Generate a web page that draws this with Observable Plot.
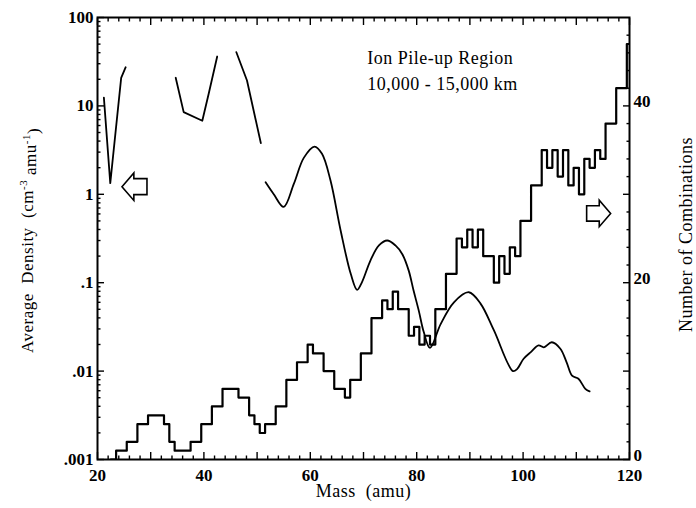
<!DOCTYPE html>
<html><head><meta charset="utf-8">
<script src="https://cdn.jsdelivr.net/npm/d3@7"></script>
<script src="https://cdn.jsdelivr.net/npm/@observablehq/plot@0.6"></script>
<style>
html,body{margin:0;padding:0;background:#fff;}
</style></head><body><div id="chart"></div>
<script>
// ---- Data ----
// Histogram: number of combinations per 1-amu mass bin (right axis)
const histMass = [23,24,25,26,27,28,29,30,31,32,33,34,35,36,37,38,39,40,41,42,43,44,45,46,47,48,49,50,
  51,52,53,54,55,56,57,58,59,60,61,62,63,64,65,66,67,68,69,70,71,72,73,74,75,76,77,78,79,80,
  81,82,83,84,85,86,87,88,89,90,91,92,93,94,95,96,97,98,99,100,101,102,103,104,105,106,107,108,109,110,
  111,112,113,114,115,116,117,118,119,120];
const histCount = [0,1,1,2,2,4,4,5,5,5,4,2,1,1,1,2,2,4,4,6,6,8,8,8,7,7,5,4,
  3,4,4,6,6,9,9,11,11,13,12,12,10,10,8,8,7,9,9,12,12,16,16,18,17,19,17,17,14,15,
  13,14,13,17,17,21,21,25,24,26,24,26,23,23,20,23,21,24,23,27,27,31,31,35,33,35,32,35,31,33,
  30,34,33,35,34,38,38,42,42,47];

// Average density curve (left, log axis), in separate segments
const densityMass = [21.2,22.4,24.45,25.3,
  34.7,36.2,39.7,40.9,42.5,
  46.1,48.1,50.7,
  51.6,53.1,55.0,56.9,58.8,60.8,62.2,63.8,65.7,67.6,68.8,69.7,71.3,72.9,74.45,76.0,77.3,78.5,79.4,80.4,81.3,82.5,
  84.5,87.0,89.8,92.0,94.5,98.1,98.9,100.1,101.5,102.9,103.9,105.4,107.0,108.2,109.2,110.4,111.7,112.5];
const densityValue = [12.4,1.34,20.8,27.4,
  20.8,8.5,6.8,13.7,36.2,
  40.5,19.4,3.8,
  1.37,1.01,0.72,1.31,2.6,3.47,2.87,1.43,0.39,0.126,0.083,0.101,0.178,0.264,0.30,0.264,0.21,0.137,0.082,0.048,0.028,0.0183,
  0.034,0.060,0.078,0.058,0.029,0.0100,0.0106,0.0138,0.0165,0.0195,0.0186,0.0212,0.0179,0.0125,0.0089,0.0082,0.0063,0.0059];
const densitySegment = [1,1,1,1, 2,2,2,2,2, 3,3,3,
  4,4,4,4,4,4,4,4,4,4,4,4,4,4,4,4,4,4,4,4,4,4,4,4,4,4,4,4,4,4,4,4,4,4,4,4,4,4,4,4];

// Tick labels
const leftTicks = [0.001, 0.01, 0.1, 1, 10, 100];
const leftTickLabels = [".001", ".01", ".1", "1", "10", "100"];
const bottomTicks = [20, 40, 60, 80, 100, 120];
const rightTicks = [0, 20, 40];

// Annotations
const noteText = ["Ion Pile-up Region", "10,000 - 15,000 km"];
const noteMass = [70.7, 70.7];
const noteDensity = [34.4, 17.5];
const arrowMass = [26.95, 114.2];
const arrowDensity = [1.22, 0.607];
const arrowDir = ["left", "right"];

const xTitle = "Mass\u00a0\u00a0(amu)";
const yTitle = "Average Density (cm-3 amu-1)";
const y2Title = "Number of Combinations";

// ---- Build ----
const countMax = 50;                       // right axis spans 0..50 over the 5 log decades
const countToY = c => Math.pow(10, -3 + 5 * c / countMax);
const yToCount = v => Math.round((Math.log10(v) + 3) * countMax / 5);

const histPts = histMass.map((m, i) => ({x: m - 0.5, y: countToY(histCount[i])}));
histPts.push({x: 120, y: countToY(histCount[histCount.length - 1])});

const dens = densityMass.map((m, i) => ({x: m, y: densityValue[i], seg: densitySegment[i]}));
const densStraight = dens.filter(d => d.seg < 4);
const densSmooth = dens.filter(d => d.seg === 4);

const notes = noteText.map((t, i) => ({t, x: noteMass[i], y: noteDensity[i]}));

function arrowSymbol(dir) {
  const s = dir === "left" ? 1 : -1;
  return {
    draw(ctx, size) {
      const r = Math.sqrt(size / Math.PI);
      ctx.moveTo(-r * s, 0);
      ctx.lineTo(-0.05 * r * s, -1.1 * r);
      ctx.lineTo(-0.05 * r * s, -0.64 * r);
      ctx.lineTo(r * s, -0.64 * r);
      ctx.lineTo(r * s, 0.64 * r);
      ctx.lineTo(-0.05 * r * s, 0.64 * r);
      ctx.lineTo(-0.05 * r * s, 1.1 * r);
      ctx.closePath();
    }
  };
}
const arrows = arrowMass.map((m, i) => ({x: m, y: arrowDensity[i], dir: arrowDir[i]}));

// tick positions
const logMinor = [];
for (let k = -3; k < 2; k++) for (let j = 2; j <= 9; j++) logMinor.push(j * Math.pow(10, k));
const xMajor = d3.range(20, 121, 10);
const xMinor = d3.range(20, 121, 2).filter(v => v % 10 !== 0);
const rMajor = d3.range(0, 50, 10).map(countToY);
const rMinor = d3.range(2, 50, 2).filter(v => v % 10 !== 0).map(countToY);

const serif = "'Liberation Serif', 'Times New Roman', serif";
const tickW = 1.4;

const chart = Plot.plot({
  width: 696,
  height: 508,
  marginLeft: 97,
  marginRight: 67,
  marginTop: 17,
  marginBottom: 49,
  style: {fontFamily: serif, fontSize: "17px", color: "#000", background: "#fff", overflow: "visible"},
  x: {domain: [20, 120], label: null},
  y: {type: "log", domain: [0.001, 100], label: null},
  marks: [
    // inward ticks: bottom
    Plot.axisX({anchor: "bottom", ticks: xMajor, tickSize: 7, dy: -7, text: null, strokeWidth: tickW, label: null}),
    Plot.axisX({anchor: "bottom", ticks: xMinor, tickSize: 3.5, dy: -3.5, text: null, strokeWidth: tickW, label: null}),
    // top
    Plot.axisX({anchor: "top", ticks: xMajor, tickSize: 7, dy: 7, text: null, strokeWidth: tickW, label: null}),
    Plot.axisX({anchor: "top", ticks: xMinor, tickSize: 3.5, dy: 3.5, text: null, strokeWidth: tickW, label: null}),
    // left
    Plot.axisY({anchor: "left", ticks: leftTicks, tickSize: 7, dx: 7, text: null, strokeWidth: tickW, label: null}),
    Plot.axisY({anchor: "left", ticks: logMinor, tickSize: 3.5, dx: 3.5, text: null, strokeWidth: tickW, label: null}),
    // right
    Plot.axisY({anchor: "right", ticks: rMajor, tickSize: 7, dx: -7, text: null, strokeWidth: tickW, label: null}),
    Plot.axisY({anchor: "right", ticks: rMinor, tickSize: 3.5, dx: -3.5, text: null, strokeWidth: tickW, label: null}),
    // tick labels
    Plot.axisX({anchor: "bottom", ticks: bottomTicks, tickSize: 0, tickPadding: 9, fontWeight: "bold", fontSize: 17, label: null}),
    Plot.axisY({anchor: "left", ticks: leftTicks, tickSize: 0, tickPadding: 4,
      tickFormat: v => leftTickLabels[leftTicks.indexOf(v)], fontWeight: "bold", fontSize: 17, label: null}),
    Plot.axisY({anchor: "right", ticks: rightTicks.map(countToY), tickSize: 0, tickPadding: 4, dy: -4,
      tickFormat: v => String(yToCount(v)), fontWeight: "bold", fontSize: 17, label: null}),
    Plot.frame({stroke: "#000", strokeWidth: 2}),
    // histogram
    Plot.line(histPts, {x: "x", y: "y", curve: "step-after", stroke: "#000", strokeWidth: 2.2, clip: true}),
    // density curve
    Plot.line(densStraight, {x: "x", y: "y", z: "seg", curve: "linear", stroke: "#000", strokeWidth: 1.8}),
    Plot.line(densSmooth, {x: "x", y: "y", curve: "catmull-rom", stroke: "#000", strokeWidth: 1.8}),
    // arrows
    Plot.dot(arrows.filter(d => d.dir === "left"), {x: "x", y: "y", r: 12.5, symbol: arrowSymbol("left"), fill: "#fff", stroke: "#000", strokeWidth: 1.6}),
    Plot.dot(arrows.filter(d => d.dir === "right"), {x: "x", y: "y", r: 12, symbol: arrowSymbol("right"), fill: "#fff", stroke: "#000", strokeWidth: 1.6}),
    // annotation
    Plot.text(notes, {x: "x", y: "y", text: "t", textAnchor: "start", fontSize: 18, fill: "#000"}),
    // axis titles
    Plot.text([xTitle], {frameAnchor: "bottom", textAnchor: "middle", dy: 37, text: d => d, fontSize: 18, fill: "#000"}),
    Plot.text([yTitle], {frameAnchor: "left", textAnchor: "middle", dx: -70, dy: 2, rotate: -90, text: d => d, fontSize: 17, fill: "#000"}),
    Plot.text([y2Title], {frameAnchor: "right", textAnchor: "middle", dx: 57, dy: -4, rotate: -90, text: d => d, fontSize: 18, fill: "#000"})
  ]
});

// letter spacing for the annotation and the titles (scanned Times is set wider)
d3.select(chart).selectAll("text").filter(function() {
  return noteText.includes(this.textContent) || this.textContent === xTitle || this.textContent === y2Title;
}).attr("letter-spacing", "0.5px");

// superscripts in the left title
d3.select(chart).selectAll("text").filter(function() { return this.textContent === yTitle; }).each(function() {
  const t = d3.select(this);
  t.text(null).attr("letter-spacing", "0.5px");
  t.append("tspan").text("Average\u00a0\u00a0Density\u00a0\u00a0(cm");
  t.append("tspan").attr("font-size", 11).attr("dy", "-0.5em").text("-3");
  t.append("tspan").attr("dy", "0.5em").text(" amu");
  t.append("tspan").attr("font-size", 11).attr("dy", "-0.5em").text("-1");
  t.append("tspan").attr("dy", "0.5em").text(")");
});

document.getElementById("chart").appendChild(chart);
</script>
</body></html>
